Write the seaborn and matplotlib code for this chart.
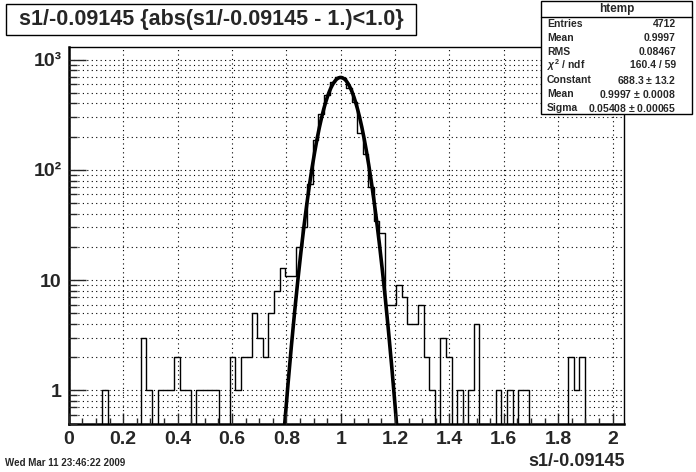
import numpy as np
import pandas as pd
import matplotlib
matplotlib.use("Agg")
import matplotlib.pyplot as plt
import seaborn as sns
from matplotlib.patches import Rectangle
from matplotlib.lines import Line2D
from matplotlib.ticker import FixedLocator, MultipleLocator, LogLocator, NullFormatter

# ---------------- data ----------------
x_low = 0.0
x_high = 2.04
n_bins = 100
bin_counts = [
    0, 0, 0, 0, 0, 0, 1, 0, 0, 0,        # 0-9
    0, 0, 0, 3, 1, 0, 1, 1, 1, 2,        # 10-19
    1, 1, 0, 1, 1, 1, 1, 0, 0, 2,        # 20-29
    1, 2, 2, 5, 3, 2, 5, 8, 13, 11,      # 30-39
    11, 20, 30, 75, 188, 324, 475, 628, 690, 685,   # 40-49
    553, 410, 218, 138, 70, 34, 27, 6, 6, 9,        # 50-59
    7, 4, 4, 6, 2, 1, 0, 3, 2, 0,        # 60-69
    1, 0, 1, 4, 0, 0, 0, 1, 0, 1,        # 70-79
    0, 1, 1, 0, 0, 0, 0, 0, 0, 0,        # 80-89
    2, 1, 2, 0, 0, 0, 0, 0, 0, 0,        # 90-99
]
fit_constant = 688.3
fit_mean = 0.9997
fit_sigma = 0.05408

title_text = "s1/-0.09145 {abs(s1/-0.09145 - 1.)<1.0}"
x_label = "s1/-0.09145"
date_text = "Wed Mar 11 23:46:22 2009"
stats_name = "htemp"
stats_labels = ["Entries", "Mean", "RMS", "$\\chi^2$ / ndf", "Constant", "Mean", "Sigma"]
stats_values = ["4712", "0.9997", "0.08467", "160.4 / 59",
                "688.3 $\\pm$ 13.2", "0.9997 $\\pm$ 0.0008", "0.05408 $\\pm$ 0.00065"]
x_ticks = [0, 0.2, 0.4, 0.6, 0.8, 1.0, 1.2, 1.4, 1.6, 1.8, 2.0]
x_tick_labels = ["0", "0.2", "0.4", "0.6", "0.8", "1", "1.2", "1.4", "1.6", "1.8", "2"]
y_ticks = [1, 10, 100, 1000]
y_tick_labels = ["1", "10", "10²", "10³"]

# ---------------- figure ----------------
sns.set_theme(style="white")
plt.rcParams["font.family"] = ["Liberation Sans", "DejaVu Sans"]
plt.rcParams["mathtext.fontset"] = "custom"
plt.rcParams["mathtext.rm"] = "Liberation Sans:bold"
plt.rcParams["mathtext.it"] = "Liberation Sans:italic:bold"
plt.rcParams["mathtext.bf"] = "Liberation Sans:bold"

W, H = 696, 472
fig = plt.figure(figsize=(W / 100, H / 100), dpi=100)
fig.patch.set_facecolor("white")

left_px, right_px, top_px, bottom_px = 68.8, 623.5, 47, 424
ax = fig.add_axes([left_px / W, 1 - bottom_px / H,
                   (right_px - left_px) / W, (bottom_px - top_px) / H])
ax.set_facecolor("white")

edges = np.linspace(x_low, x_high, n_bins + 1)
centers = 0.5 * (edges[:-1] + edges[1:])
df = pd.DataFrame({"x": centers, "w": np.asarray(bin_counts, dtype=float)})

sns.histplot(data=df, x="x", weights="w", bins=n_bins, binrange=(x_low, x_high),
             element="step", fill=False, color="black", linewidth=1.0, ax=ax)

xs = np.linspace(x_low, x_high, 2000)
fit_df = pd.DataFrame({"x": xs,
                       "y": fit_constant * np.exp(-0.5 * ((xs - fit_mean) / fit_sigma) ** 2)})
sns.lineplot(data=fit_df, x="x", y="y", color="black", linewidth=2.6, ax=ax)

ax.set_yscale("log")
ax.set_xlim(x_low, x_high)
ax.set_ylim(0.495, 1300)

ax.xaxis.set_major_locator(FixedLocator(x_ticks))
ax.set_xticklabels(x_tick_labels)
ax.xaxis.set_minor_locator(MultipleLocator(0.05))
ax.yaxis.set_major_locator(FixedLocator(y_ticks))
ax.set_yticklabels(y_tick_labels)
ax.yaxis.set_minor_locator(LogLocator(base=10, subs=np.arange(2, 10), numticks=20))
ax.yaxis.set_minor_formatter(NullFormatter())

ax.tick_params(axis="x", which="major", direction="in", length=8, width=1,
               labelsize=14, pad=5, bottom=True, top=False)
ax.tick_params(axis="x", which="minor", direction="in", length=4, width=1,
               bottom=True, top=False)
ax.tick_params(axis="y", which="major", direction="in", length=12, width=1,
               labelsize=14, pad=5, left=True, right=False)
ax.tick_params(axis="y", which="minor", direction="in", length=6, width=1,
               left=True, right=False)
for lab in ax.get_xticklabels() + ax.get_yticklabels():
    lab.set_fontweight("bold")

ax.grid(True, which="major", axis="x", color="black", linestyle=(0, (1, 3)), linewidth=0.8)
ax.grid(True, which="both", axis="y", color="black", linestyle=(0, (1, 3)), linewidth=0.8)
ax.set_axisbelow(False)

for side in ["top", "right"]:
    ax.spines[side].set_linewidth(1.0)
    ax.spines[side].set_color("black")
for side in ["left", "bottom"]:
    ax.spines[side].set_linewidth(1.8)
    ax.spines[side].set_color("black")

ax.set_xlabel("")
ax.set_ylabel("")

def fx(px):
    return px / W

def fy(py):
    return 1 - py / H

# title box
fig.patches.append(Rectangle((fx(6), fy(35)), fx(416) - fx(6), fy(4) - fy(35),
                             transform=fig.transFigure, facecolor="white",
                             edgecolor="black", linewidth=1.0, zorder=5))
fig.text(fx(211), fy(19.5), title_text, ha="center", va="center",
         fontsize=15.5, fontweight="bold", zorder=6)

# stats box
sx0, sx1, sy0, sy1 = 541, 692, 1, 114
fig.patches.append(Rectangle((fx(sx0), fy(sy1)), fx(sx1) - fx(sx0), fy(sy0) - fy(sy1),
                             transform=fig.transFigure, facecolor="white",
                             edgecolor="black", linewidth=1.0, zorder=5))
fig.lines.append(Line2D([fx(sx0), fx(sx1)], [fy(17), fy(17)],
                        transform=fig.transFigure, color="black", linewidth=1.0, zorder=6))
fig.text(fx((sx0 + sx1) / 2), fy(9), stats_name, ha="center", va="center",
         fontsize=8.5, fontweight="bold", zorder=6)
row_y = [24, 37.7, 51.7, 65.3, 80, 94, 107.7]
for lab, val, yy in zip(stats_labels, stats_values, row_y):
    fig.text(fx(547), fy(yy), lab, ha="left", va="center", fontsize=7.5,
             fontweight="bold", zorder=6)
    fig.text(fx(676), fy(yy), val, ha="right", va="center", fontsize=7.5,
             fontweight="bold", zorder=6)

# x axis title and date
fig.text(fx(625), fy(461), x_label, ha="right", va="center", fontsize=13,
         fontweight="bold")
fig.text(fx(5), fy(463), date_text, ha="left", va="center", fontsize=7,
         fontweight="bold")

fig.savefig("out.png", dpi=100, facecolor="white")
